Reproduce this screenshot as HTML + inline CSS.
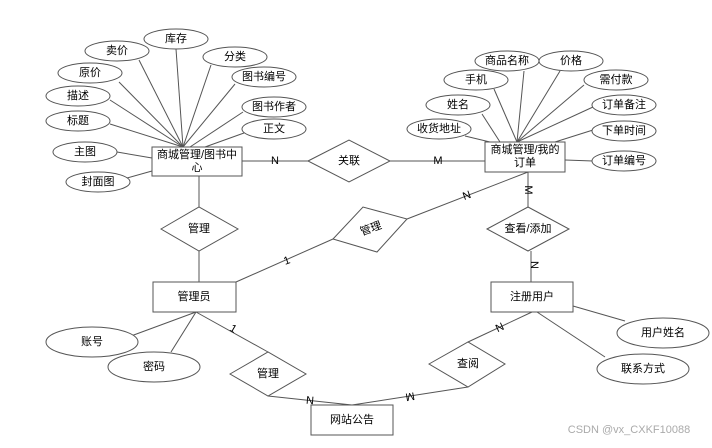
<!DOCTYPE html>
<html><head><meta charset="utf-8"><style>
html,body{margin:0;padding:0;background:#fff;}
svg text{font-family:"Liberation Sans","Noto Sans CJK SC",sans-serif;font-size:11px;fill:#000;text-anchor:middle;dominant-baseline:central;}
</style></head><body>
<svg width="712" height="443" viewBox="0 0 712 443" xmlns="http://www.w3.org/2000/svg">
<g stroke="#555" stroke-width="1" fill="none">
<!-- left attr lines -->
<line x1="183" y1="147" x2="176" y2="49"/>
<line x1="183" y1="147" x2="139" y2="60"/>
<line x1="183" y1="147" x2="211" y2="65"/>
<line x1="183" y1="147" x2="119" y2="82"/>
<line x1="183" y1="147" x2="235" y2="84"/>
<line x1="183" y1="147" x2="110" y2="100"/>
<line x1="190" y1="147" x2="243" y2="112"/>
<line x1="183" y1="147" x2="110" y2="124"/>
<line x1="205" y1="147" x2="244" y2="133"/>
<line x1="152" y1="158" x2="117" y2="152"/>
<line x1="152" y1="171" x2="127" y2="178"/>
<!-- right attr lines -->
<line x1="517" y1="142" x2="524" y2="71"/>
<line x1="517" y1="142" x2="560" y2="71"/>
<line x1="517" y1="142" x2="494" y2="89"/>
<line x1="517" y1="142" x2="584" y2="85"/>
<line x1="500" y1="142" x2="482" y2="114"/>
<line x1="517" y1="142" x2="593" y2="107"/>
<line x1="490" y1="142" x2="465" y2="136"/>
<line x1="555" y1="142" x2="593" y2="130"/>
<line x1="565" y1="160" x2="593" y2="161"/>
<!-- relations -->
<line x1="242" y1="161" x2="308" y2="161"/>
<line x1="390" y1="161" x2="485" y2="161"/>
<line x1="199" y1="176" x2="199" y2="207"/>
<line x1="199" y1="251" x2="199" y2="282"/>
<line x1="236" y1="282" x2="333" y2="239"/>
<line x1="407" y1="219" x2="528" y2="172"/>
<line x1="528" y1="172" x2="528" y2="207"/>
<line x1="531" y1="251" x2="531" y2="282"/>
<line x1="196" y1="312" x2="131" y2="336"/>
<line x1="196" y1="312" x2="171" y2="352"/>
<line x1="196" y1="312" x2="268" y2="352"/>
<line x1="268" y1="396" x2="352" y2="405"/>
<line x1="468" y1="387" x2="352" y2="405"/>
<line x1="468" y1="342" x2="532" y2="312"/>
<line x1="573" y1="306" x2="625" y2="321"/>
<line x1="537" y1="312" x2="605" y2="357"/>
</g>
<g stroke="#555" stroke-width="1" fill="#fff">
<ellipse cx="176" cy="39" rx="32" ry="10"/>
<ellipse cx="117" cy="51" rx="32" ry="10"/>
<ellipse cx="235" cy="57" rx="32" ry="10"/>
<ellipse cx="90" cy="73" rx="32" ry="10"/>
<ellipse cx="264" cy="77" rx="32" ry="10"/>
<ellipse cx="78" cy="96" rx="32" ry="10"/>
<ellipse cx="274" cy="107" rx="32" ry="10"/>
<ellipse cx="78" cy="121" rx="32" ry="10"/>
<ellipse cx="274" cy="129" rx="32" ry="10"/>
<ellipse cx="85" cy="152" rx="32" ry="10"/>
<ellipse cx="98" cy="182" rx="32" ry="10"/>
<ellipse cx="507" cy="61" rx="32" ry="10"/>
<ellipse cx="571" cy="61" rx="32" ry="10"/>
<ellipse cx="476" cy="80" rx="32" ry="10"/>
<ellipse cx="616" cy="80" rx="32" ry="10"/>
<ellipse cx="458" cy="105" rx="32" ry="10"/>
<ellipse cx="624" cy="105" rx="32" ry="10"/>
<ellipse cx="439" cy="129" rx="32" ry="10"/>
<ellipse cx="624" cy="131" rx="32" ry="10"/>
<ellipse cx="624" cy="161" rx="32" ry="10"/>
<ellipse cx="92" cy="342" rx="46" ry="15"/>
<ellipse cx="154" cy="367" rx="46" ry="15"/>
<ellipse cx="663" cy="333" rx="46" ry="15"/>
<ellipse cx="643" cy="369" rx="46" ry="15"/>
<rect x="152" y="147" width="90" height="29"/>
<rect x="485" y="142" width="80" height="30"/>
<rect x="153" y="282" width="83" height="30"/>
<rect x="491" y="282" width="82" height="30"/>
<rect x="311" y="405" width="82" height="30"/>
<polygon points="308,161 349,140 390,161 349,182"/>
<polygon points="161,229 199,207 238,229 199,251"/>
<polygon points="333,239 363,207 407,219 377,252"/>
<polygon points="487,229 528,207 569,229 528,251"/>
<polygon points="230,374 268,352 306,374 268,396"/>
<polygon points="429,364 468,342 505,364 468,387"/>
</g>
<text x="176" y="39">库存</text>
<text x="117" y="51">卖价</text>
<text x="235" y="57">分类</text>
<text x="90" y="73">原价</text>
<text x="264" y="77">图书编号</text>
<text x="78" y="96">描述</text>
<text x="274" y="107">图书作者</text>
<text x="78" y="121">标题</text>
<text x="274" y="129">正文</text>
<text x="85" y="152">主图</text>
<text x="98" y="182">封面图</text>
<text x="197" y="155">商城管理/图书中</text>
<text x="197" y="168">心</text>
<text x="507" y="61">商品名称</text>
<text x="571" y="61">价格</text>
<text x="476" y="80">手机</text>
<text x="616" y="80">需付款</text>
<text x="458" y="105">姓名</text>
<text x="624" y="105">订单备注</text>
<text x="439" y="129">收货地址</text>
<text x="624" y="131">下单时间</text>
<text x="624" y="161">订单编号</text>
<text x="525" y="150">商城管理/我的</text>
<text x="525" y="163">订单</text>
<text x="349" y="161">关联</text>
<text x="199" y="229">管理</text>
<text x="371" y="229" transform="rotate(-20 371 229)">管理</text>
<text x="528" y="229">查看/添加</text>
<text x="268" y="374">管理</text>
<text x="468" y="364">查阅</text>
<text x="194" y="297">管理员</text>
<text x="532" y="297">注册用户</text>
<text x="352" y="420">网站公告</text>
<text x="92" y="342">账号</text>
<text x="154" y="367">密码</text>
<text x="663" y="333">用户姓名</text>
<text x="643" y="369">联系方式</text>
<text x="275" y="161">N</text>
<text x="438" y="161">M</text>
<text x="467" y="196" transform="rotate(-20 467 196)">N</text>
<text x="528" y="190" transform="rotate(90 528 190)">M</text>
<text x="534" y="265" transform="rotate(90 534 265)">N</text>
<text x="287" y="261" transform="rotate(-20 287 261)">1</text>
<text x="233" y="329" transform="rotate(30 233 329)">1</text>
<text x="310" y="401" transform="rotate(5 310 401)">N</text>
<text x="410" y="396" transform="rotate(170 410 396)">M</text>
<text x="500" y="328" transform="rotate(-25 500 328)">N</text>
<text x="629" y="430" style="fill:#aaa;font-size:11px">CSDN @vx_CXKF10088</text>
</svg>
</body></html>
